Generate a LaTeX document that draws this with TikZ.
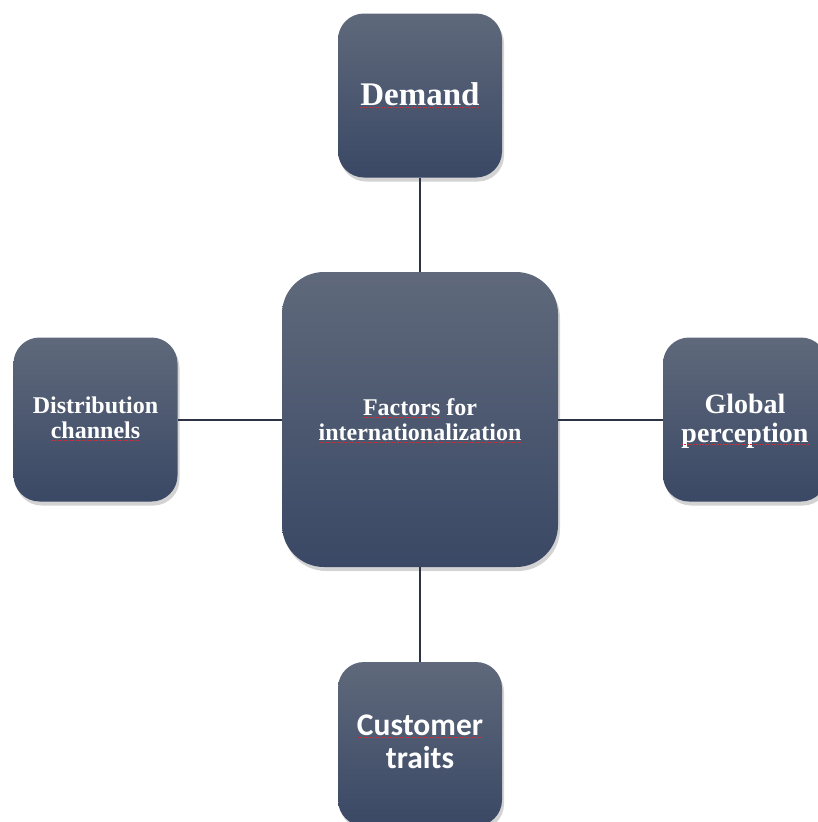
\documentclass[tikz,border=0pt]{standalone}
\usepackage{fontspec}
\setmainfont{Liberation Serif}
\newfontfamily\calibri{Carlito}
\usepackage{tikz}
\usetikzlibrary{shadows}
\definecolor{boxtop}{HTML}{5F697B}
\definecolor{boxbot}{HTML}{3A4865}
\definecolor{linkcol}{HTML}{2B3344}
\definecolor{spellred}{HTML}{C8303A}
% red mark under the base line of a text node
\newcommand{\spellmark}[1]{
    \draw[spell] ([yshift=-2.5pt]#1.base west) -- ([yshift=-2.5pt]#1.base east);
}

\tikzset{
    factor/.style={rounded corners=26pt, top color=boxtop, bottom color=boxbot,
        inner sep=0pt, minimum width=164pt, minimum height=164pt,
        drop shadow={shadow xshift=2pt, shadow yshift=-4pt, opacity=0.35}},
    wordtext/.style={text=white, inner sep=0pt, outer sep=0pt, anchor=base},
    link/.style={draw=linkcol, line width=2pt},
    spell/.style={draw=spellred, line width=1.5pt, dash pattern=on 2pt off 1pt}
}

\begin{document}
\begin{tikzpicture}[x=1pt,y=-1pt]
        \useasboundingbox (0,0) rectangle (818,822);
        \clip (0,0) rectangle (818,822);
        % boxes
        \node[factor, minimum width=276pt, minimum height=295pt, rounded corners=42pt] (hub) at (420,419.5) {};
        \node[factor] (demand) at (420,95.5) {};
        \node[factor] (channels) at (95.5,419.5) {};
        \node[factor] (perception) at (745,419.5) {};
        \node[factor] (traits) at (420,744) {};
        % texts
        \begin{scope}[every node/.append style={font=\bfseries\fontsize{33}{36}\selectfont}]
            \node[wordtext] (t1) at (420,105) {Demand};
        \end{scope}
        \begin{scope}[every node/.append style={font=\bfseries\fontsize{24}{25}\selectfont}]
            \node[wordtext] (h1) at (420,415) {Factors for};
            \node[wordtext, anchor=base west] (h1a) at (h1.base west) {\phantom{Factors}};
            \node[wordtext] (h2) at (420,440) {internationalization};
            \node[wordtext] (c1) at (95.5,413) {Distribution};
            \node[wordtext] (c2) at (95.5,438) {channels};
        \end{scope}
        \begin{scope}[every node/.append style={font=\bfseries\fontsize{28}{29}\selectfont}]
            \node[wordtext] (p1) at (745,413) {Global};
            \node[wordtext] (p2) at (745,442) {perception};
        \end{scope}
        \begin{scope}[every node/.append style={font=\calibri\bfseries\fontsize{31.5}{34}\selectfont}]
            \node[wordtext] (k1) at (420,735) {Customer};
            \node[wordtext] (k2) at (420,768) {traits};
        \end{scope}
        \spellmark{t1}
        \spellmark{h1a}
        \spellmark{h2}
        \spellmark{c2}
        \spellmark{p2}
        \spellmark{k1}
        % links
        \draw[link] (demand) -- (hub);
        \draw[link] (traits) -- (hub);
        \draw[link] (channels) -- (hub);
        \draw[link] (perception) -- (hub);
\end{tikzpicture}
\end{document}
